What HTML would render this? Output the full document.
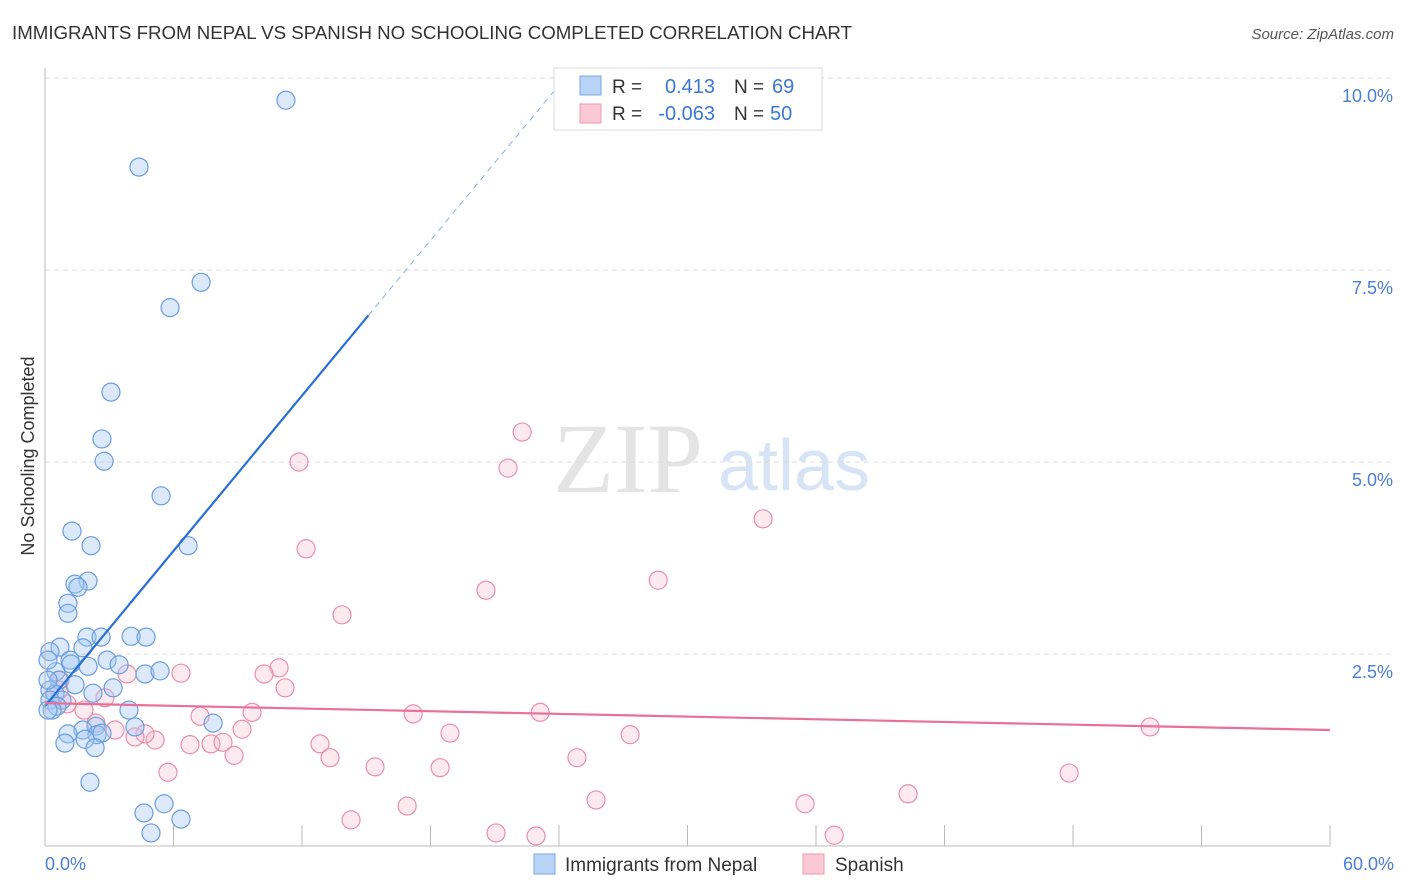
<!DOCTYPE html>
<html><head><meta charset="utf-8"><style>
body{margin:0;background:#fff;font-family:"Liberation Sans",sans-serif}
</style></head><body>
<svg id="c" width="1406" height="892" style="display:block">
<text x="12" y="39" font-size="18.7" fill="#333">IMMIGRANTS FROM NEPAL VS SPANISH NO SCHOOLING COMPLETED CORRELATION CHART</text>
<text x="1394" y="39" font-size="15" fill="#555" font-style="italic" text-anchor="end">Source: ZipAtlas.com</text>
<text x="553" y="492" font-size="100" fill="#e4e4e4" font-family="Liberation Serif,serif">ZIP</text>
<text x="718" y="490" font-size="72" fill="#d6e4f5">atlas</text>
<text transform="translate(34,456) rotate(-90)" font-size="18" fill="#333" text-anchor="middle">No Schooling Completed</text>
<g id="grid"></g><g id="ticks"></g><g id="marks"></g>
<line x1="45" y1="68" x2="45" y2="846" stroke="#bbb"/>
<line x1="45" y1="846" x2="1330" y2="846" stroke="#bbb"/>
<text x="45" y="870" font-size="18" fill="#4a7fd4">0.0%</text>
<text x="1394" y="870" font-size="18" fill="#4a7fd4" text-anchor="end">60.0%</text>
<g>
<rect x="554" y="68" width="268" height="62" fill="#fff" stroke="#ddd"/>
<rect x="580" y="76" width="21" height="19" fill="#b8d3f5" stroke="#7aa7e6"/>
<rect x="580" y="104" width="21" height="19" fill="#fac8d6" stroke="#ee9ab3"/>
<text x="612" y="93" font-size="19" fill="#333">R =</text><text x="715" y="93" font-size="20" fill="#3a78d4" text-anchor="end">0.413</text>
<text x="734" y="93" font-size="19" fill="#333">N =</text><text x="772" y="93" font-size="20" fill="#3a78d4">69</text>
<text x="612" y="120" font-size="19" fill="#333">R =</text><text x="715" y="120" font-size="20" fill="#3a78d4" text-anchor="end">-0.063</text>
<text x="734" y="120" font-size="19" fill="#333">N =</text><text x="770" y="120" font-size="20" fill="#3a78d4">50</text>
</g>
<g>
<rect x="534" y="854" width="21" height="20" fill="#b8d3f5" stroke="#7aa7e6"/>
<text x="565" y="871" font-size="19" fill="#333">Immigrants from Nepal</text>
<rect x="803" y="854" width="21" height="20" fill="#fac8d6" stroke="#ee9ab3"/>
<text x="835" y="871" font-size="19" fill="#333">Spanish</text>
</g>
</svg>
<script>
const yTicks=[2.5,5.0,7.5,10.0];
const xTicks=[0,6,12,18,24,30,36,42,48,54,60];
const nepalX=[11.25,4.39,7.29,5.84,3.08,2.66,2.76,5.42,1.26,6.68,2.15,2.01,1.40,1.54,1.07,1.07,0.70,1.96,2.62,4.02,4.72,0.23,1.77,1.17,2.90,3.46,2.01,1.21,0.51,4.67,5.37,0.65,3.18,1.40,0.23,2.24,0.47,0.79,0.23,0.56,0.33,3.92,7.85,2.38,1.77,1.07,2.43,2.66,4.20,1.87,0.93,2.34,2.10,5.56,4.62,6.35,4.95,0.14,0.14,0.14];
const nepalY=[9.71,8.84,7.34,7.01,5.91,5.30,5.01,4.56,4.10,3.91,3.91,3.45,3.41,3.37,3.16,3.03,2.59,2.72,2.72,2.73,2.72,2.53,2.58,2.42,2.42,2.36,2.34,2.37,2.27,2.24,2.28,2.16,2.06,2.10,2.03,1.99,1.98,1.90,1.90,1.82,1.77,1.77,1.60,1.56,1.51,1.46,1.45,1.47,1.55,1.39,1.34,1.28,0.83,0.55,0.43,0.35,0.17,2.42,2.16,1.77];
const spanX=[22.28,11.86,21.62,33.53,12.19,20.59,28.63,13.87,6.35,10.93,10.23,11.21,2.80,1.03,1.82,3.83,0.70,9.67,7.24,17.19,23.12,51.60,2.38,18.91,27.32,3.27,9.20,5.14,4.67,6.77,7.75,8.31,4.20,12.84,8.83,13.31,24.84,15.41,18.45,5.74,47.82,40.30,25.73,35.49,16.91,14.29,21.06,22.93,36.85,0.65];
const spanY=[5.39,5.00,4.92,4.26,3.87,3.33,3.46,3.01,2.25,2.32,2.24,2.06,1.93,1.85,1.77,2.24,2.16,1.74,1.69,1.72,1.74,1.55,1.60,1.47,1.45,1.51,1.52,1.38,1.46,1.32,1.33,1.35,1.42,1.33,1.18,1.15,1.15,1.03,1.02,0.96,0.95,0.68,0.60,0.55,0.52,0.34,0.17,0.13,0.14,2.03];
const nepalTrend=[1.82,0.337];
const spanTrend=[1.86,-0.00583];
const X=v=>45+v/60*1285, Y=v=>846-v*76.8;
const NS='http://www.w3.org/2000/svg';
function mk(t,a,p){const e=document.createElementNS(NS,t);for(const k in a)e.setAttribute(k,a[k]);p.appendChild(e);return e;}
const grid=document.getElementById('grid'),ticks=document.getElementById('ticks'),marks=document.getElementById('marks');
yTicks.forEach(v=>{
 const l=mk('line',{x1:45,x2:1394,y1:Y(v),y2:Y(v),stroke:'#ddd','stroke-dasharray':'5,4'},grid);
 
 
 const t=mk('text',{x:1393,y:Y(v)+24,'font-size':18,fill:'#4a7fd4','text-anchor':'end'},ticks);
 t.textContent=v.toFixed(1)+'%';
 
 
});
xTicks.forEach(v=>{
 const l=mk('line',{x1:X(v),x2:X(v),y1:825,y2:846,stroke:'#bbb'},ticks);
 
 
});
spanX.forEach((x,i)=>{
 const c=mk('circle',{cx:X(x),cy:Y(spanY[i]),r:9,fill:'rgba(246,185,205,0.3)',stroke:'#eb8fa9','stroke-width':1.2},marks);
 
 
});
nepalX.forEach((x,i)=>{
 const c=mk('circle',{cx:X(x),cy:Y(nepalY[i]),r:9,fill:'rgba(165,200,242,0.4)',stroke:'#6a9de0','stroke-width':1.2},marks);
 
 
});
const b1=mk('line',{x1:X(0),y1:Y(nepalTrend[0]),x2:X(15.1),y2:Y(nepalTrend[0]+nepalTrend[1]*15.1),stroke:'#2a6fd6','stroke-width':2.2},marks);


const b2=mk('line',{x1:X(15.1),y1:Y(nepalTrend[0]+nepalTrend[1]*15.1),x2:X(23.8),y2:Y(nepalTrend[0]+nepalTrend[1]*23.8),stroke:'#8ab0e6','stroke-width':1,'stroke-dasharray':'6,5'},marks);


const p1=mk('line',{x1:X(0),y1:Y(spanTrend[0]),x2:X(60),y2:Y(spanTrend[0]+spanTrend[1]*60),stroke:'#e8709a','stroke-width':2.2},marks);


</script>
</body></html>
